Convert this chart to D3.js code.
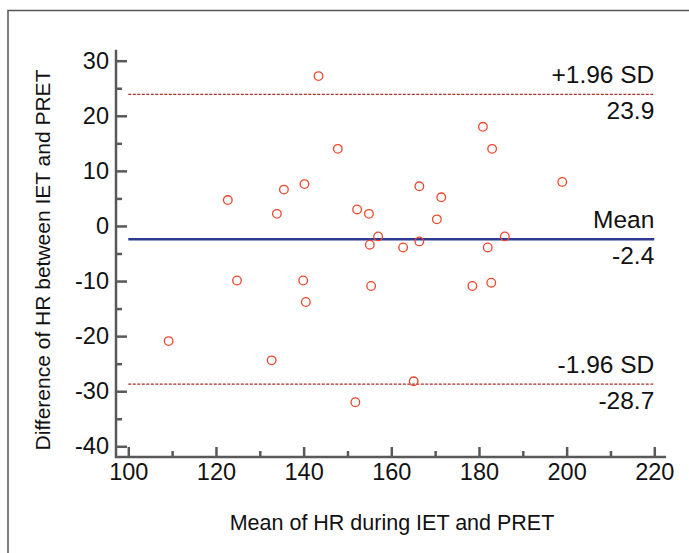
<!DOCTYPE html>
<html>
<head>
<meta charset="utf-8">
<script src="https://cdn.jsdelivr.net/npm/d3@7"></script>
<style>
  body { margin: 0; background: #fff; }
  text { font-family: "Liberation Sans", Arial, sans-serif; fill: #111; }
</style>
</head>
<body>
<div id="chart"></div>
<script>
// mean HR and difference of HR (IET - PRET)
var meanHR = [109.2, 122.7, 124.8, 132.7, 133.9, 135.5, 139.9, 140.2, 140.5, 143.4,
              147.8, 151.8, 152.2, 154.9, 155.1, 155.4, 157.0, 162.7, 165.1, 166.4,
              166.4, 170.4, 171.4, 178.5, 180.9, 182.0, 182.8, 183.0, 185.9, 199.0];
var diffHR = [-20.9, 4.7, -9.9, -24.4, 2.2, 6.6, -9.9, 7.6, -13.8, 27.2,
              14.0, -32.0, 3.0, 2.2, -3.4, -10.9, -1.9, -3.9, -28.2, 7.2,
              -2.8, 1.2, 5.2, -10.9, 18.0, -3.9, -10.3, 14.0, -1.9, 8.0];

// reference lines
var refNames = ['+1.96 SD', 'Mean', '-1.96 SD'];
var refValues = [23.9, -2.4, -28.7];

var xTicks = [100, 120, 140, 160, 180, 200, 220];
var xMinor = [110, 130, 150, 170, 190, 210];
var yTicks = [30, 20, 10, 0, -10, -20, -30, -40];
var yMinor = [25, 15, 5, -5, -15, -25, -35];

var width = 689, height = 553;

var svg = d3.select('#chart')
  .append('svg')
  .attr('width', width)
  .attr('height', height);

svg.append('rect').attr('width', width).attr('height', height).attr('fill', '#fff');

// outer frame (top + left)
svg.append('path')
  .attr('d', 'M8,553V10.5H689')
  .attr('fill', 'none')
  .attr('stroke', '#555')
  .attr('stroke-width', 1.5);

var x = d3.scaleLinear().domain([100, 220]).range([128.3, 654.3]);
var y = d3.scaleLinear().domain([-40, 30]).range([446.3, 60.7]);

var axisX = 116;   // y axis line position
var axisY = 457;   // x axis line position

// plain hyphen for negatives, like the original
var fmt = d => String(d);

// axis lines (detached from the data range)
svg.append('path')
  .attr('d', 'M' + axisX + ',' + y(32) + 'V' + axisY + 'H' + x(222.7))
  .attr('fill', 'none')
  .attr('stroke', '#595959')
  .attr('stroke-width', 2.5);

// y axis
var yAxis = svg.append('g')
  .attr('transform', 'translate(' + axisX + ',0)')
  .call(d3.axisLeft(y).tickValues(yTicks).tickFormat(fmt).tickSizeInner(-11).tickSizeOuter(0).tickPadding(7));
var yAxisMinor = svg.append('g')
  .attr('transform', 'translate(' + axisX + ',0)')
  .call(d3.axisLeft(y).tickValues(yMinor).tickSizeInner(-6).tickSizeOuter(0).tickFormat(''));

// x axis
var xAxis = svg.append('g')
  .attr('transform', 'translate(0,' + axisY + ')')
  .call(d3.axisBottom(x).tickValues(xTicks).tickFormat(fmt).tickSizeInner(-10).tickSizeOuter(0).tickPadding(6));
var xAxisMinor = svg.append('g')
  .attr('transform', 'translate(0,' + axisY + ')')
  .call(d3.axisBottom(x).tickValues(xMinor).tickSizeInner(-6).tickSizeOuter(0).tickFormat(''));

[yAxis, yAxisMinor, xAxis, xAxisMinor].forEach(function(g) {
  g.select('.domain').remove();
  g.selectAll('line').attr('stroke', '#595959').attr('stroke-width', 2.5);
  g.selectAll('text').attr('font-size', 23.5).attr('fill', '#111')
    .attr('font-family', '"Liberation Sans", Arial, sans-serif');
});

// reference lines
refValues.forEach(function(v, i) {
  var isMean = refNames[i] === 'Mean';
  svg.append('line')
    .attr('x1', x(100)).attr('x2', x(220))
    .attr('y1', y(v)).attr('y2', y(v))
    .attr('stroke', isMean ? '#2e3a94' : '#a8322c')
    .attr('stroke-width', isMean ? 2.5 : 1.2)
    .attr('stroke-dasharray', isMean ? null : '3,1.5');
  svg.append('text')
    .attr('x', x(220)).attr('y', y(v) - 11)
    .attr('text-anchor', 'end')
    .attr('font-size', 24.5)
    .text(refNames[i]);
  svg.append('text')
    .attr('x', x(220)).attr('y', y(v) + 25)
    .attr('text-anchor', 'end')
    .attr('font-size', 24.5)
    .text(v.toFixed(1));
});

// points
svg.append('g').selectAll('circle')
  .data(meanHR)
  .enter()
  .append('circle')
  .attr('cx', d => x(d))
  .attr('cy', (d, i) => y(diffHR[i]))
  .attr('r', 4.3)
  .attr('fill', 'none')
  .attr('stroke', '#f0462d')
  .attr('stroke-width', 1.3);

// axis titles
svg.append('text')
  .attr('x', 392).attr('y', 530)
  .attr('text-anchor', 'middle')
  .attr('font-size', 21.5)
  .text('Mean of HR during IET and PRET');

svg.append('text')
  .attr('transform', 'translate(50,260) rotate(-90)')
  .attr('text-anchor', 'middle')
  .attr('font-size', 21)
  .text('Difference of HR between IET and PRET');
</script>
</body>
</html>
